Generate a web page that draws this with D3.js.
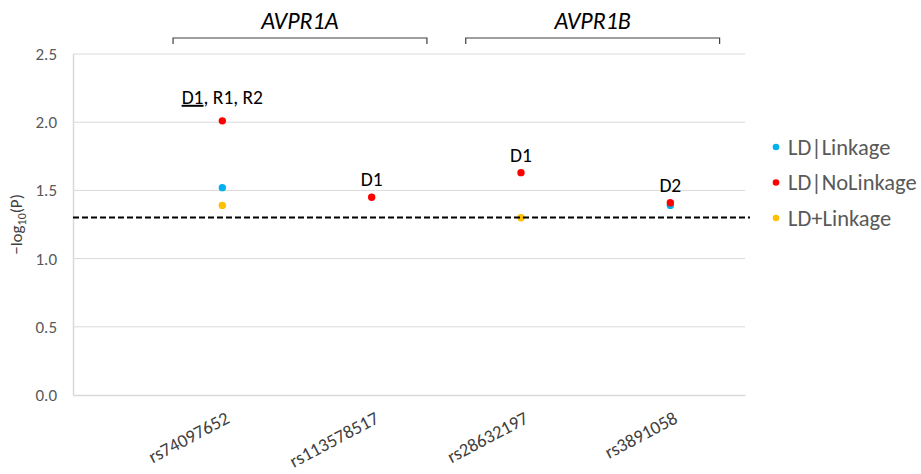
<!DOCTYPE html>
<html><head><meta charset="utf-8">
<script src="https://cdn.jsdelivr.net/npm/d3@7"></script>
<style>body{margin:0;background:#fff}svg{display:block}text{font-family:Carlito,Lato,"Open Sans",sans-serif}</style>
</head><body><svg id="c" width="921" height="474"></svg>
<script>
const snps = ["rs74097652","rs113578517","rs28632197","rs3891058"];
const seriesNames = ["LD|Linkage","LD|NoLinkage","LD+Linkage"];
const seriesColors = ["#00b0f0","#ff0000","#ffc000"];
// values per series, aligned with snps (null = no point)
const ldLinkage   = [1.52, null, null, 1.39];
const ldNoLinkage = [2.01, 1.45, 1.63, 1.41];
const ldPlusLink  = [1.39, null, 1.30, null];
const yTicks = [0.0, 0.5, 1.0, 1.5, 2.0, 2.5];
const threshold = 1.301;
const annotations = [
  {snp:0, value:2.01, parts:[{t:"D1",u:true},{t:", R1, R2",u:false}]},
  {snp:1, value:1.45, parts:[{t:"D1",u:false}]},
  {snp:2, value:1.63, parts:[{t:"D1",u:false}]},
  {snp:3, value:1.41, parts:[{t:"D2",u:false}]}
];
const genes = [{name:"AVPR1A", from:0.67, to:2.37},{name:"AVPR1B", from:2.63, to:4.33}];

const svg = d3.select("#c");
const mLeft = 73, mRight = 745, mTop = 54, mBottom = 395;
const x = d3.scaleLinear().domain([0,4.5]).range([mLeft,mRight]);
const y = d3.scaleLinear().domain([0,2.5]).range([mBottom,mTop]);

// gridlines
svg.append("g").selectAll("line").data(yTicks.filter(d=>d>0)).join("line")
  .attr("x1",mLeft).attr("x2",mRight).attr("y1",d=>y(d)).attr("y2",d=>y(d))
  .attr("stroke","#d9d9d9").attr("stroke-width",1);

// y axis
const ya = svg.append("g").attr("transform",`translate(${mLeft},0)`)
  .call(d3.axisLeft(y).tickValues(yTicks).tickFormat(d3.format(".1f")).tickSize(0).tickPadding(16));
ya.select(".domain").attr("stroke","#d9d9d9").attr("stroke-width",1.5);
ya.selectAll("text").attr("font-size",17).attr("fill","#595959");

// x axis
const xa = svg.append("g").attr("transform",`translate(0,${mBottom})`)
  .call(d3.axisBottom(x).tickValues([1,2,3,4]).tickFormat((d)=>snps[d-1]).tickSize(0));
xa.select(".domain").attr("stroke","#d9d9d9").attr("stroke-width",1.5);
xa.selectAll("text").attr("font-size",18.5).attr("fill","#404040")
  .attr("text-anchor","end").attr("dy",0).attr("y",0)
  .attr("transform","translate(8,27) rotate(-28)");

// points
const series = [ldLinkage, ldNoLinkage, ldPlusLink];
const order = [2,0,1];
order.forEach(si=>{
  const pts = series[si].map((v,i)=>({v,i})).filter(d=>d.v!=null);
  svg.append("g").selectAll("circle").data(pts).join("circle")
    .attr("cx",d=>x(d.i+1)).attr("cy",d=>y(d.v)).attr("r",3.7)
    .attr("fill",seriesColors[si]);
});

// threshold line
svg.append("line").attr("x1",mLeft).attr("x2",mRight+5).attr("y1",y(threshold)).attr("y2",y(threshold))
  .attr("stroke","#000").attr("stroke-width",2).attr("stroke-dasharray","6,3");

// annotations
annotations.forEach(a=>{
  const underlined = a.parts.some(p=>p.u);
  const t = svg.append("text").attr("x",x(a.snp+1)).attr("y",y(a.value)-(underlined?17:11))
    .attr("text-anchor","middle").attr("font-size",19.5).attr("fill","#000");
  a.parts.forEach(p=>t.append("tspan").text(p.t).attr("text-decoration",p.u?"underline":null));
});

// gene brackets
genes.forEach(g=>{
  const x1 = x(g.from), x2 = x(g.to);
  svg.append("path").attr("d",`M${x1},44V38H${x2}V44`).attr("fill","none").attr("stroke","#404040").attr("stroke-width",1.2);
  svg.append("text").attr("x",(x1+x2)/2).attr("y",29).attr("text-anchor","middle")
    .attr("font-size",24).attr("font-style","italic").attr("fill","#000").text(g.name);
});

// y label
const yl = svg.append("text").attr("transform",`translate(22,${(mTop+mBottom)/2}) rotate(-90)`)
  .attr("text-anchor","middle").attr("font-size",17).attr("fill","#404040");
yl.append("tspan").text("\u2212log");
yl.append("tspan").text("10").attr("font-size",12).attr("dy",4);
yl.append("tspan").text("(P)").attr("dy",-4);

// legend
const lg = svg.append("g").selectAll("g").data(seriesNames).join("g")
  .attr("transform",(d,i)=>`translate(776,${147+i*35.5})`);
lg.append("circle").attr("r",3.3).attr("fill",(d,i)=>seriesColors[i]);
lg.append("text").attr("x",12).attr("dy","0.35em").attr("font-size",22.5).attr("fill","#595959").text(d=>d);
</script></body></html>
